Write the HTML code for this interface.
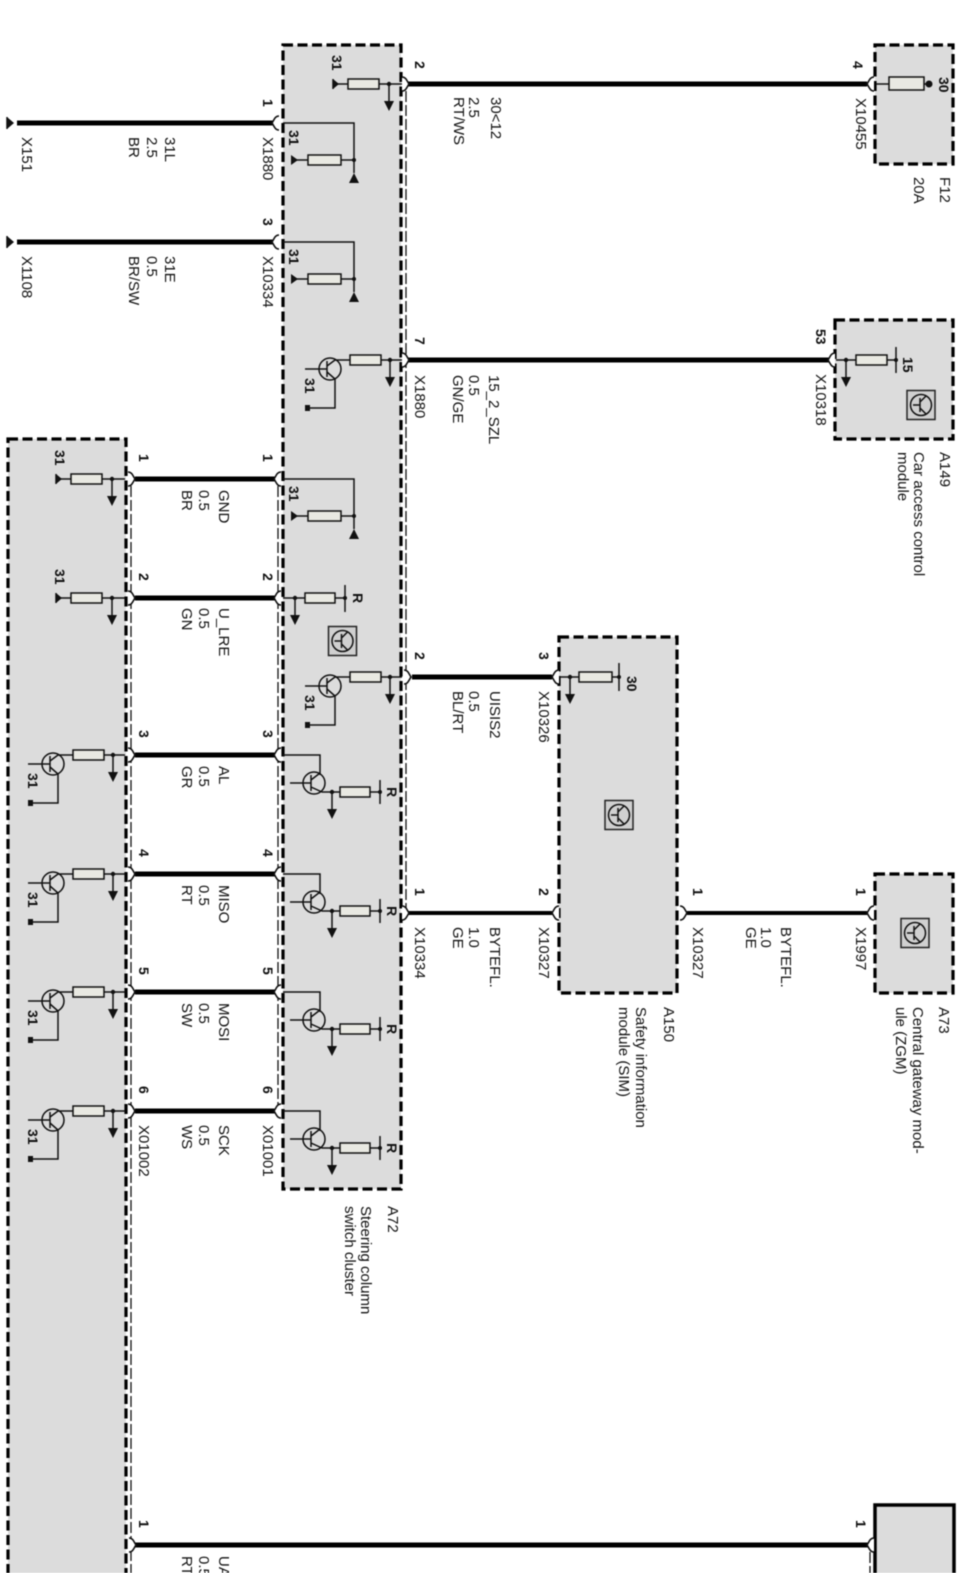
<!DOCTYPE html>
<html><head><meta charset="utf-8"><title>Wiring diagram</title>
<style>
html,body{margin:0;padding:0;background:#fff;width:960px;height:1573px;overflow:hidden}
svg{display:block;filter:blur(.5px)}
text{font-family:"Liberation Sans",sans-serif;font-size:15px;fill:#111}
.b{font-weight:bold;font-size:14px}
.box{fill:#dcdcdc;stroke:#000;stroke-width:3.2;stroke-dasharray:10 4.5}
.w{stroke:#000;stroke-width:5;fill:none}
.w2{stroke:#000;stroke-width:4;fill:none}
.t{stroke:#111;stroke-width:1.5;fill:none}
.d{stroke:#111;stroke-width:1.3;fill:none;stroke-dasharray:11 3}
.r{fill:#e9e9e2;stroke:#111;stroke-width:1.5}
.c{fill:#fff;stroke:#111;stroke-width:1.6}
</style></head><body>
<svg width="960" height="1573" viewBox="0 0 960 1573" xmlns="http://www.w3.org/2000/svg">
<defs>
<g id="cr"><path class="c" d="M-3,-7 C1,-7 2,-3 4,0 C2,3 1,7 -3,7"/></g>
<g id="cl"><path class="c" d="M3,-7 C-1,-7 -2,-3 -4,0 C-2,3 -1,7 3,7"/></g>
<g id="arrow"><path class="t" d="M0,0V18"/><circle r="2.2" fill="#111"/><path d="M-5,17H5L0,27Z" fill="#111"/></g>
<g id="ra"><path class="t" d="M336,0H402"/><path d="M333,-5V5L339,0Z" fill="#111"/><path class="t" d="M333,-5V5"/><rect class="r" x="348" y="-5" width="31" height="10"/><use href="#arrow" x="389"/></g>
<g id="tr"><path class="t" d="M402,0H335"/><rect class="r" x="350" y="-5" width="31" height="10"/><use href="#arrow" x="390"/>
<circle class="t" cx="330" cy="9" r="11"/><path class="t" d="M305,9H327M327,1V17" /><path class="t" d="M327,6L335,0M327,12L335,19V48H308"/><rect x="305" y="45" width="5" height="6" fill="#111"/></g>
<g id="rg"><path class="t" d="M283,0H354V50"/><path d="M349,50H359L354,60L349,50Z" transform="rotate(180 354 55)" fill="#111"/><path class="t" d="M293,37H308M341,37H354"/><circle cx="354" cy="37" r="2" fill="#111"/><path d="M291,32V42L298,37Z" fill="#111"/><rect class="r" x="308" y="32" width="33" height="10"/></g>
<g id="ti"><path class="t" d="M283,0H320V20"/><circle class="t" cx="314" cy="28" r="11"/><path class="t" d="M290,28H311M311,20V36M311,25L320,18M311,32L322,37H380"/><rect class="r" x="340" y="32" width="30" height="10"/><path class="t" d="M380,25V49"/><circle cx="380" cy="37" r="2" fill="#111"/><use href="#arrow" x="332" y="37"/><text class="b" transform="translate(387,32) rotate(90)">R</text></g>
<g id="ic"><rect x="-14" y="-14.500" width="28" height="29" fill="#d0d0d0" stroke="#222" stroke-width="1.500"/><circle class="t" r="10.500"/><path class="t" d="M-8,0H-1M-1,-7V7M-1,-3L5,-9M-1,3L5,9"/></g>
</defs>

<!-- boxes -->
<rect class="box" x="8" y="439" width="118" height="1160"/>
<rect class="box" x="283" y="45" width="118" height="1144"/>
<rect class="box" x="875" y="45" width="78" height="119"/>
<rect class="box" x="835" y="320" width="118" height="119"/>
<rect class="box" x="559" y="637" width="118" height="356"/>
<rect class="box" x="875" y="874" width="78" height="119"/>
<rect x="875" y="1505" width="79" height="90" fill="#dcdcdc" stroke="#000" stroke-width="3.500"/>

<!-- dashed thin lines -->
<path class="d" d="M131,486V1573M278,486V1111M406,91V910M870,1552V1573"/>

<!-- wires -->
<path class="w" d="M408,84H867M17,123H273M17,242H273M408,360H829M135,479H275M135,598H275M412,677H552M135,755H275M135,874H275M135,992H275M135,1111H275M135,1545H868"/>
<path class="w2" d="M408,913H552M687,913H867"/>
<path d="M7,117V129L14,123Z M7,236V248L14,242Z" fill="#111"/><path class="t" d="M7,117V129M7,236V248" stroke-width="2"/>

<!-- connectors -->
<use href="#cr" x="405" y="84"/><use href="#cl" x="871" y="84"/>
<use href="#cl" x="276" y="123"/><use href="#cl" x="276" y="242"/>
<use href="#cr" x="405" y="360"/><use href="#cl" x="832" y="360"/>
<use href="#cr" x="131" y="479"/><use href="#cl" x="278" y="479"/>
<use href="#cr" x="131" y="598"/><use href="#cl" x="278" y="598"/>
<use href="#cr" x="407" y="677"/><use href="#cl" x="556" y="677"/>
<use href="#cr" x="131" y="755"/><use href="#cl" x="278" y="755"/>
<use href="#cr" x="131" y="874"/><use href="#cl" x="278" y="874"/>
<use href="#cr" x="131" y="992"/><use href="#cl" x="278" y="992"/>
<use href="#cr" x="131" y="1111"/><use href="#cl" x="278" y="1111"/>
<use href="#cr" x="405" y="913"/><use href="#cl" x="556" y="913"/>
<use href="#cr" x="683" y="913"/><use href="#cl" x="871" y="913"/>
<use href="#cr" x="132" y="1545"/><use href="#cl" x="871" y="1545"/>

<!-- A72 symbols -->
<use href="#ra" y="84"/>
<use href="#rg" y="123"/><use href="#rg" y="242"/><use href="#rg" y="479"/>
<use href="#tr" y="360"/><use href="#tr" y="677"/>
<g><path class="t" d="M283,598H345M345,585V612"/><rect class="r" x="305" y="593" width="30" height="10"/><use href="#arrow" x="295" y="598"/><circle cx="345" cy="598" r="2" fill="#111"/><text class="b" transform="translate(353,593) rotate(90)">R</text></g>
<use href="#ti" y="755"/><use href="#ti" y="874"/><use href="#ti" y="992"/><use href="#ti" y="1111"/>
<use href="#ic" x="342.500" y="641"/>

<!-- left box symbols -->
<use href="#ra" x="-277" y="479"/><use href="#ra" x="-277" y="598"/>
<use href="#tr" x="-277" y="755"/><use href="#tr" x="-277" y="874"/><use href="#tr" x="-277" y="992"/><use href="#tr" x="-277" y="1111"/>

<!-- F12 -->
<path class="t" d="M876,84H929"/><rect class="r" x="889" y="77" width="35" height="13"/><circle cx="929" cy="84" r="3.500" fill="#111"/>
<!-- A149 -->
<path class="t" d="M836,360H896M896,347V373"/><rect class="r" x="856" y="355" width="31" height="10"/><use href="#arrow" x="846" y="360"/><circle cx="896" cy="360" r="2" fill="#111"/>
<use href="#ic" x="921" y="405"/>
<!-- A150 -->
<path class="t" d="M560,677H619M619,663V691"/><rect class="r" x="579" y="672" width="33" height="10"/><use href="#arrow" x="570" y="677"/><circle cx="619" cy="677" r="2" fill="#111"/>
<use href="#ic" x="619" y="815"/>
<!-- A73 -->
<use href="#ic" x="915" y="933"/>

<g transform="translate(1,-1)">
<!-- wire labels -->
<text transform="translate(490,98) rotate(90)">30&lt;12</text>
<text transform="translate(468,98) rotate(90)">2.5</text>
<text transform="translate(453,98) rotate(90)">RT/WS</text>
<text transform="translate(164,138) rotate(90)">31L</text>
<text transform="translate(146,138) rotate(90)">2.5</text>
<text transform="translate(128,138) rotate(90)">BR</text>
<text transform="translate(21,138) rotate(90)">X151</text>
<text transform="translate(164,257) rotate(90)">31E</text>
<text transform="translate(146,257) rotate(90)">0.5</text>
<text transform="translate(128,257) rotate(90)">BR/SW</text>
<text transform="translate(21,257) rotate(90)">X1108</text>
<text transform="translate(262,138) rotate(90)">X1880</text>
<text transform="translate(262,257) rotate(90)">X10334</text>
<text transform="translate(414,376) rotate(90)">X1880</text>
<text transform="translate(488,376) rotate(90)">15_2_SZL</text>
<text transform="translate(468,376) rotate(90)">0.5</text>
<text transform="translate(452,376) rotate(90)">GN/GE</text>
<text transform="translate(218,491) rotate(90)">GND</text>
<text transform="translate(198,491) rotate(90)">0.5</text>
<text transform="translate(181,491) rotate(90)">BR</text>
<text transform="translate(218,609) rotate(90)">U_LRE</text>
<text transform="translate(198,609) rotate(90)">0.5</text>
<text transform="translate(181,609) rotate(90)">GN</text>
<text transform="translate(218,767) rotate(90)">AL</text>
<text transform="translate(198,767) rotate(90)">0.5</text>
<text transform="translate(181,767) rotate(90)">GR</text>
<text transform="translate(218,886) rotate(90)">MISO</text>
<text transform="translate(198,886) rotate(90)">0.5</text>
<text transform="translate(181,886) rotate(90)">RT</text>
<text transform="translate(218,1004) rotate(90)">MOSI</text>
<text transform="translate(198,1004) rotate(90)">0.5</text>
<text transform="translate(181,1004) rotate(90)">SW</text>
<text transform="translate(218,1126) rotate(90)">SCK</text>
<text transform="translate(198,1126) rotate(90)">0.5</text>
<text transform="translate(181,1126) rotate(90)">WS</text>
<text transform="translate(138,1126) rotate(90)">X01002</text>
<text transform="translate(262,1126) rotate(90)">X01001</text>
<text transform="translate(218,1557) rotate(90)">UA</text>
<text transform="translate(198,1557) rotate(90)">0.5</text>
<text transform="translate(181,1557) rotate(90)">RT</text>
<text transform="translate(489,692) rotate(90)">UISIS2</text>
<text transform="translate(468,692) rotate(90)">0.5</text>
<text transform="translate(452,692) rotate(90)">BL/RT</text>
<text transform="translate(538,692) rotate(90)">X10326</text>
<text transform="translate(414,928) rotate(90)">X10334</text>
<text transform="translate(538,928) rotate(90)">X10327</text>
<text transform="translate(489,928) rotate(90)">BYTEFL.</text>
<text transform="translate(468,928) rotate(90)">1.0</text>
<text transform="translate(452,928) rotate(90)">GE</text>
<text transform="translate(692,928) rotate(90)">X10327</text>
<text transform="translate(780,928) rotate(90)">BYTEFL.</text>
<text transform="translate(760,928) rotate(90)">1.0</text>
<text transform="translate(745,928) rotate(90)">GE</text>
<text transform="translate(855,928) rotate(90)">X1997</text>
<text transform="translate(855,99) rotate(90)">X10455</text>
<text transform="translate(815,375) rotate(90)">X10318</text>

<!-- component labels -->
<text transform="translate(939,178) rotate(90)">F12</text>
<text transform="translate(913,178) rotate(90)">20A</text>
<text transform="translate(939,453) rotate(90)">A149</text>
<text transform="translate(913,453) rotate(90)">Car access control</text>
<text transform="translate(897,453) rotate(90)">module</text>
<text transform="translate(663,1008) rotate(90)">A150</text>
<text transform="translate(635,1008) rotate(90)">Safety information</text>
<text transform="translate(618,1008) rotate(90)">module (SIM)</text>
<text transform="translate(938,1008) rotate(90)">A73</text>
<text transform="translate(912,1008) rotate(90)">Central gateway mod-</text>
<text transform="translate(895,1008) rotate(90)">ule (ZGM)</text>
<text transform="translate(387,1207) rotate(90)">A72</text>
<text transform="translate(360,1207) rotate(90)">Steering column</text>
<text transform="translate(344,1207) rotate(90)">switch cluster</text>

<!-- pin numbers -->
<text class="b" transform="translate(414,62) rotate(90)">2</text>
<text class="b" transform="translate(852,62) rotate(90)">4</text>
<text class="b" transform="translate(262,100) rotate(90)">1</text>
<text class="b" transform="translate(262,219) rotate(90)">3</text>
<text class="b" transform="translate(414,338) rotate(90)">7</text>
<text class="b" transform="translate(815,330) rotate(90)">53</text>
<text class="b" transform="translate(138,455) rotate(90)">1</text><text class="b" transform="translate(262,455) rotate(90)">1</text>
<text class="b" transform="translate(138,574) rotate(90)">2</text><text class="b" transform="translate(262,574) rotate(90)">2</text>
<text class="b" transform="translate(138,731) rotate(90)">3</text><text class="b" transform="translate(262,731) rotate(90)">3</text>
<text class="b" transform="translate(138,850) rotate(90)">4</text><text class="b" transform="translate(262,850) rotate(90)">4</text>
<text class="b" transform="translate(138,968) rotate(90)">5</text><text class="b" transform="translate(262,968) rotate(90)">5</text>
<text class="b" transform="translate(138,1087) rotate(90)">6</text><text class="b" transform="translate(262,1087) rotate(90)">6</text>
<text class="b" transform="translate(414,653) rotate(90)">2</text>
<text class="b" transform="translate(538,653) rotate(90)">3</text>
<text class="b" transform="translate(414,889) rotate(90)">1</text>
<text class="b" transform="translate(538,889) rotate(90)">2</text>
<text class="b" transform="translate(692,889) rotate(90)">1</text>
<text class="b" transform="translate(855,889) rotate(90)">1</text>
<text class="b" transform="translate(138,1521) rotate(90)">1</text>
<text class="b" transform="translate(855,1521) rotate(90)">1</text>

<!-- terminal labels -->
<text class="b" transform="translate(331,56) rotate(90)">31</text>
<text class="b" transform="translate(288,131) rotate(90)">31</text>
<text class="b" transform="translate(288,250) rotate(90)">31</text>
<text class="b" transform="translate(288,487) rotate(90)">31</text>
<text class="b" transform="translate(304,379) rotate(90)">31</text>
<text class="b" transform="translate(304,696) rotate(90)">31</text>
<text class="b" transform="translate(54,451) rotate(90)">31</text>
<text class="b" transform="translate(54,570) rotate(90)">31</text>
<text class="b" transform="translate(27,774) rotate(90)">31</text>
<text class="b" transform="translate(27,893) rotate(90)">31</text>
<text class="b" transform="translate(27,1011) rotate(90)">31</text>
<text class="b" transform="translate(27,1130) rotate(90)">31</text>
<text class="b" transform="translate(938,78) rotate(90)">30</text>
<text class="b" transform="translate(902,358) rotate(90)">15</text>
<text class="b" transform="translate(626,677) rotate(90)">30</text>
</g>
</svg>
</body></html>
